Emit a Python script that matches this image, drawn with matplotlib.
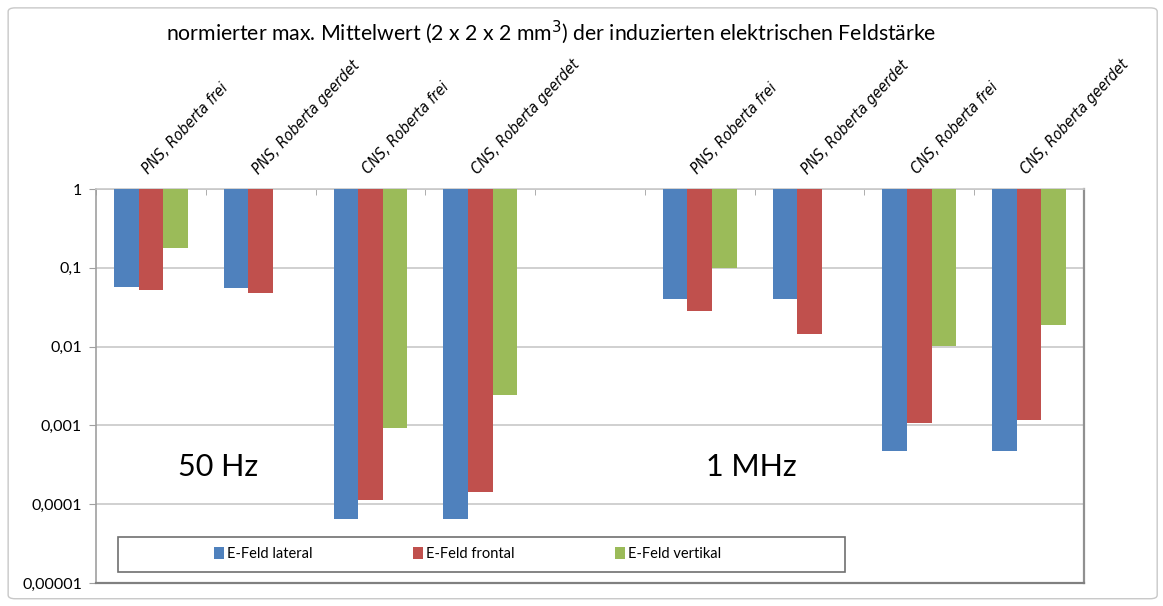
import numpy as np
import matplotlib
matplotlib.use("Agg")
import matplotlib.pyplot as plt
from matplotlib import font_manager
from matplotlib.patches import Rectangle, FancyBboxPatch
from matplotlib.ticker import FixedLocator, FixedFormatter

# data (normalised, log scale)
categories = ["PNS, Roberta frei", "PNS, Roberta geerdet",
              "CNS, Roberta frei", "CNS, Roberta geerdet"]
series_names = ["E-Feld lateral", "E-Feld frontal", "E-Feld vertikal"]

lateral_50hz = [0.057, 0.055, 6.4e-5, 6.5e-5]
frontal_50hz = [0.052, 0.048, 1.13e-4, 1.42e-4]
vertikal_50hz = [0.18, np.nan, 9.3e-4, 2.4e-3]

lateral_1mhz = [0.040, 0.040, 4.7e-4, 4.7e-4]
frontal_1mhz = [0.0286, 0.0146, 1.06e-3, 1.17e-3]
vertikal_1mhz = [0.099, np.nan, 0.0101, 0.0188]

ytick_values = [1e-5, 1e-4, 1e-3, 1e-2, 1e-1, 1]
ytick_labels = ["0,00001", "0,0001", "0,001", "0,01", "0,1", "1"]
freq_labels = ["50 Hz", "1 MHz"]

colors = ["#4F81BD", "#C0504D", "#9BBB59"]


def narrow_font():
    for fam in ["Liberation Sans Narrow", "Arial Narrow"]:
        try:
            font_manager.findfont(fam, fallback_to_default=False)
            return {"family": fam}
        except Exception:
            pass
    return {"family": "DejaVu Sans", "stretch": "condensed"}


# 9 slots: 4 categories at 50 Hz, an empty slot, 4 categories at 1 MHz
pos_50 = np.arange(4)
pos_1m = np.arange(4) + 5
positions = np.concatenate([pos_50, pos_1m])
labels = categories + categories
series = [np.array(lateral_50hz + lateral_1mhz),
          np.array(frontal_50hz + frontal_1mhz),
          np.array(vertikal_50hz + vertikal_1mhz)]

fig = plt.figure(figsize=(11.63, 6.06), dpi=100)
fig.patches.append(FancyBboxPatch((0.007, 0.012), 0.988, 0.975,
                                  boxstyle="round,pad=0,rounding_size=0.006",
                                  transform=fig.transFigure, fill=False,
                                  edgecolor="#C8C8C8", linewidth=1.0))

ax = fig.add_axes([96 / 1163, 23 / 606, 988 / 1163, 394 / 606])
ax.set_yscale("log")
ax.set_ylim(1e-5, 1)
ax.set_xlim(-0.5, 8.5)

bw = 0.224
for k, (vals, col, name) in enumerate(zip(series, colors, series_names)):
    xs = positions + (k - 1) * bw
    ax.bar(xs, vals - 1, bottom=1, width=bw, color=col, label=name,
           edgecolor="none", zorder=3)

ax.yaxis.set_major_locator(FixedLocator(ytick_values))
ax.yaxis.set_major_formatter(FixedFormatter(ytick_labels))
ax.yaxis.set_minor_locator(FixedLocator([]))
ax.grid(axis="y", color="#C8C8C8", linewidth=1.2, zorder=0)
ax.tick_params(axis="y", labelsize=11.5, length=5, color="#A0A0A0", pad=5)
for t in ax.get_yticklabels():
    t.set_fontfamily("Lato")

ax.xaxis.tick_top()
ax.set_xticks(positions)
ax.set_xticklabels(labels, rotation=47, ha="left", va="bottom",
                   rotation_mode="anchor", fontsize=11, style="italic",
                   **narrow_font())
ax.tick_params(axis="x", which="major", length=0, pad=9)
ax.set_xticks(np.arange(-0.5, 9.0, 1.0), minor=True)
ax.tick_params(axis="x", which="minor", length=4, color="#A0A0A0",
               direction="in", top=True, bottom=False)

for s in ax.spines.values():
    s.set_color("#A0A0A0")
    s.set_linewidth(1.2)
ax.spines["top"].set_color("#C8C8C8")
ax.spines["right"].set_color("#909090")
ax.spines["bottom"].set_color("#808080")
ax.spines["bottom"].set_linewidth(1.6)
ax.spines["right"].set_linewidth(1.6)

ax.text(0.61, 3.0e-4, freq_labels[0], fontsize=22, family="Lato",
        ha="center", va="center", zorder=5)
ax.text(5.47, 3.0e-4, freq_labels[1], fontsize=22, family="Lato",
        ha="center", va="center", zorder=5)

# legend box
ax.add_patch(Rectangle((0.022, 0.028), 0.736, 0.089, transform=ax.transAxes,
                       facecolor="white", edgecolor="#707070", linewidth=1.2,
                       zorder=6))
leg = ax.legend(loc="center", bbox_to_anchor=(0.376, 0.0725), ncol=3,
                frameon=False, handlelength=0.7,
                handleheight=0.9, handletextpad=0.2, columnspacing=6.9,
                prop={"family": "Lato", "size": 10.5})
leg.set_zorder(7)

fig.text(0.474, 0.946,
         "normierter max. Mittelwert (2 x 2 x 2 mm$^3$) der induzierten elektrischen Feldstärke",
         ha="center", va="center", fontsize=15.3, family="Lato")

fig.savefig("out.png", dpi=100)
